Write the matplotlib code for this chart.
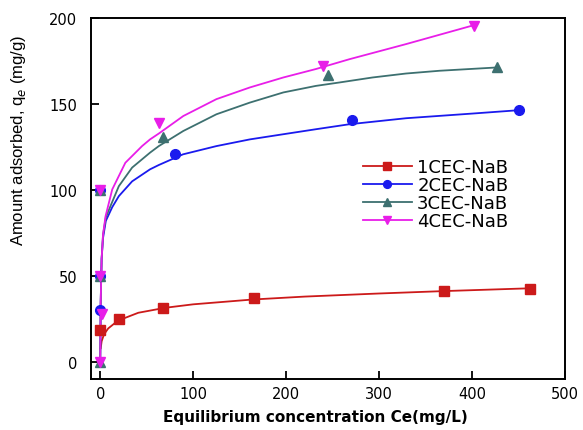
import matplotlib
matplotlib.use("Agg")
from matplotlib import pyplot as plt

# measured points (Ce in mg/L, qe in mg/g)
ce_1 = [0, 20, 68, 165, 370, 462]
qe_1 = [18.7, 25, 31.5, 37, 41, 42.5]
ce_2 = [0, 0, 0, 80, 271, 451]
qe_2 = [30, 50, 100, 121, 140.5, 146.5]
ce_3 = [0, 0, 0, 68, 245, 427]
qe_3 = [0, 50, 100, 131, 167, 171.6]
ce_4 = [0, 1.5, 0, 0, 63, 240, 402]
qe_4 = [0, 28, 50, 100, 139, 172.2, 195.5]

# fitted curves
fit_ce_1 = [0.5, 1.5, 4, 8.6, 19, 41, 70, 100, 164, 220, 300, 370, 461]
fit_qe_1 = [8, 12, 16, 19.5, 24, 28.6, 31.5, 33.5, 36.3, 38, 39.8, 41.2, 42.8]
fit_ce_2 = [0, 0.5, 1.5, 3, 6, 12.9, 20, 34.3, 53.6, 63, 89, 125, 161, 197, 232, 268, 329, 400, 451]
fit_qe_2 = [0, 35, 60, 72, 82, 90, 96.4, 105, 112, 114.5, 120.7, 125.5, 129.4, 132.4, 135.3, 138.2, 141.7, 144.4, 146.4]
fit_ce_3 = [0, 0.5, 1.5, 3, 6, 11, 20, 34.3, 53.6, 63, 89.4, 125, 161, 197, 232, 257.5, 293, 329, 365, 426]
fit_qe_3 = [0, 35, 60, 74, 84, 90.6, 102.2, 113, 121.7, 125.5, 134.3, 144, 150.8, 156.7, 160.5, 162.5, 165.4, 167.7, 169.3, 171.2]
fit_ce_4 = [0, 0.5, 1.5, 3, 5.7, 12.9, 27, 45, 53.6, 63, 89.4, 125, 161, 197, 232, 268, 329, 400]
fit_qe_4 = [0, 35, 60, 74, 84.7, 100.3, 115.8, 125.5, 129.4, 132.8, 143, 152.8, 159.6, 165.4, 170.3, 176, 184.8, 195.5]

labels = ["1CEC-NaB", "2CEC-NaB", "3CEC-NaB", "4CEC-NaB"]
colors = ["#cc1a1a", "#1a1aee", "#3d7070", "#e81ee8"]
markers = ["s", "o", "^", "v"]

plt.rcParams["font.family"] = ["DejaVu Sans"]

fig = plt.figure(figsize=(5.83, 4.31), dpi=100)
ax = fig.add_axes([0.156, 0.118, 0.813, 0.838])

series = [(ce_1, qe_1, fit_ce_1, fit_qe_1), (ce_2, qe_2, fit_ce_2, fit_qe_2),
          (ce_3, qe_3, fit_ce_3, fit_qe_3), (ce_4, qe_4, fit_ce_4, fit_qe_4)]
for (cx, qy, fx, fy), lab, col, mk in zip(series, labels, colors, markers):
    ax.plot(fx, fy, color=col, lw=1.3, zorder=2, solid_joinstyle="round")
    ax.plot(cx, qy, ls="none", marker=mk, color=col, ms=7, zorder=3)
    # legend proxy: line through marker
    ax.plot([], [], color=col, lw=1.3, marker=mk, ms=7, label=lab)

ax.set_xlim(-10, 500)
ax.set_ylim(-10, 200)
ax.set_xticks([0, 100, 200, 300, 400, 500])
ax.set_yticks([0, 50, 100, 150, 200])
ax.tick_params(direction="in", length=6, width=1.3, labelsize=10.5)
ax.tick_params(axis="x", pad=5)
ax.tick_params(axis="y", pad=10)
for s in ax.spines.values():
    s.set_linewidth(1.4)

ax.set_xlabel("Equilibrium concentration Ce(mg/L)", fontsize=11, fontweight="bold")
ax.xaxis.set_label_coords(0.473, -0.083)
ax.set_ylabel("Amount adsorbed, q$_e$ (mg/g)", fontsize=12, family="Liberation Sans")
ax.yaxis.set_label_coords(-0.133, 0.665)

ax.legend(loc="center left", bbox_to_anchor=(0.574, 0.512), frameon=False, fontsize=13,
          handlelength=2.7, handletextpad=0.3, labelspacing=0.0, borderpad=0,
          borderaxespad=0, markerscale=0.8)

fig.savefig("out.png", dpi=100)
